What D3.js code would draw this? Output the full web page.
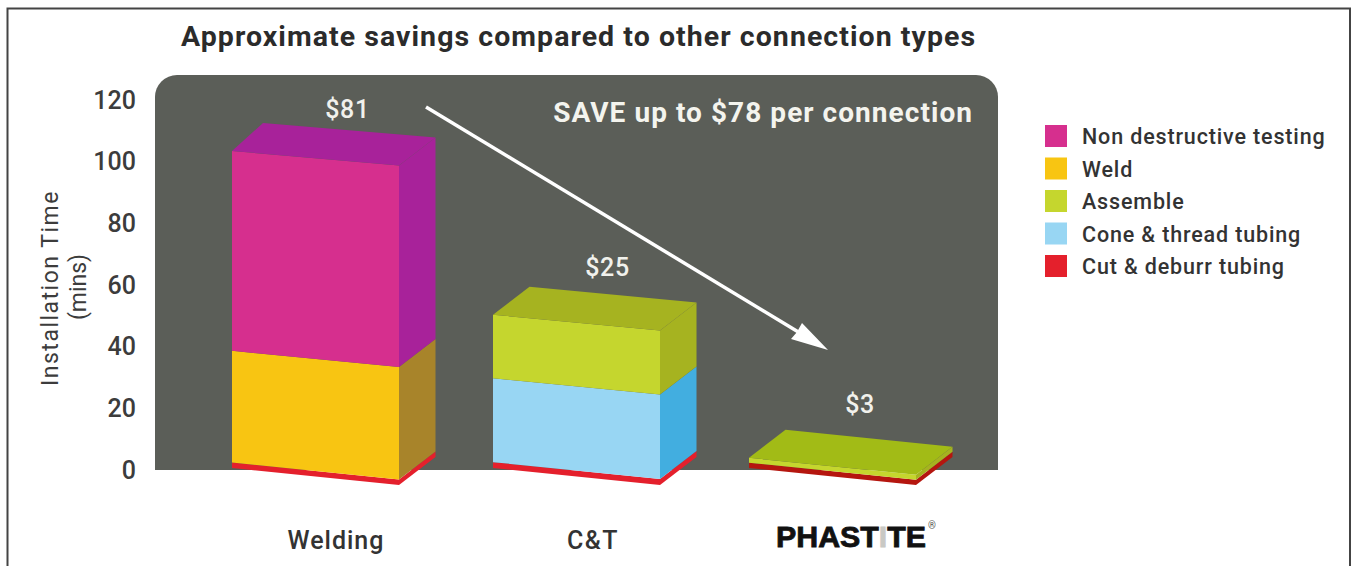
<!DOCTYPE html>
<meta charset="utf-8">
<style>

body {
  margin: 0;
  background-color: #fff;
  overflow: hidden;
}

svg {
  display: block;
}

text {
  font-family: Roboto, sans-serif;
}

</style>
<body>

<div id="chart1"></div>

<script src="https://d3js.org/d3.v7.min.js"></script>
<script>

// values (minutes per stage)
var categories = ['Welding', 'C&T', 'PHASTITE'];
var stages = ['Cut & deburr tubing', 'Cone & thread tubing', 'Assemble', 'Weld', 'Non destructive testing'];
var cutDeburr = [1.8, 1.9, 1.7];
var coneThread = [0, 27.2, 0];
var assemble = [0, 20.6, 1.6];
var weld = [36.2, 0, 0];
var nonDestructive = [64.8, 0, 0];
var yTicks = [0, 20, 40, 60, 80, 100, 120];
var costLabels = ['$81', '$25', '$3'];
var legendOrder = ['Non destructive testing', 'Weld', 'Assemble', 'Cone & thread tubing', 'Cut & deburr tubing'];

var stageValues = [cutDeburr, coneThread, assemble, weld, nonDestructive];
var width = 1351, height = 566;

// front, right side and top face of each stage
var colors = {
  'Non destructive testing': {front: '#d62f8e', side: '#a8229a', top: '#a8229a'},
  'Weld': {front: '#f8c512', side: '#a8842a', top: '#a8842a'},
  'Assemble': {front: '#c5d62e', side: '#a6b320', top: '#a6b320'},
  'Cone & thread tubing': {front: '#98d6f3', side: '#42aee0', top: '#42aee0'},
  'Cut & deburr tubing': {front: '#e4202c', side: '#e4202c', top: '#e4202c'}
};

var y = d3.scaleLinear().domain([0, 120]).range([470, 100]);
// the bars are not quite evenly spaced in the original
var x = d3.scaleOrdinal().domain(categories).range([232, 493, 749]);

var barWidth = 167;
var baseLift = 2;     // bars sit a touch above the zero line on the left edge
var slopeTop = 14.5, slopeBase = 17;   // how far the front face drops left to right
var depthX = 36.5, depthY = -28;

var svg = d3.select('#chart1').append('svg')
  .attr('width', width)
  .attr('height', height);

// frame, open at the bottom
svg.append('path')
  .attr('d', 'M7.5,566V8.5H1350V566')
  .attr('fill', 'none')
  .attr('stroke', '#444')
  .attr('stroke-width', 2);

svg.append('text')
  .attr('x', 181)
  .attr('y', 46)
  .style('font-size', '28.5px')
  .style('font-weight', 700)
  .style('letter-spacing', '1.05px')
  .style('fill', '#2b2b2b')
  .text('Approximate savings compared to other connection types');

// dark panel behind the bars
svg.append('path')
  .attr('d', 'M155,' + y(0) + 'V97a22,22 0 0 1 22,-22H976a22,22 0 0 1 22,22V' + y(0) + 'Z')
  .attr('fill', '#5b5e58');

// y axis
var yAxis = svg.append('g')
  .attr('transform', 'translate(136,0)')
  .call(d3.axisLeft(y).tickValues(yTicks).tickSize(0).tickPadding(0));
yAxis.select('.domain').remove();
yAxis.selectAll('text')
  .style('font-family', 'Roboto, sans-serif')
  .style('font-size', '25px')
  .style('font-weight', 500)
  .style('fill', '#3c3c3c');

svg.append('text')
  .attr('transform', 'translate(58,288) rotate(-90)')
  .attr('text-anchor', 'middle')
  .style('font-size', '23px')
  .style('letter-spacing', '1.5px')
  .style('fill', '#3c3c3c')
  .text('Installation Time');

svg.append('text')
  .attr('transform', 'translate(86,287) rotate(-90)')
  .attr('text-anchor', 'middle')
  .style('font-size', '23px')
  .style('fill', '#3c3c3c')
  .text('(mins)');

function drop(v) {
  return slopeBase + (slopeTop - slopeBase) * v / 103;
}

function pts(list) {
  return list.map(function(p) { return p.join(','); }).join(' ');
}

// one stage of one bar: lower value v0, upper value v1
function drawStage(cat, stage, v0, v1) {
  var xl = x(cat), xr = xl + barWidth;
  var y0 = y(v0) - baseLift, y1 = y(v1) - baseLift;
  var d0 = drop(v0), d1 = drop(v1);
  var c = colors[stage];
  var isThin = cat === 'PHASTITE';

  var g = svg.append('g').attr('class', 'stage');

  g.append('polygon')
    .attr('points', pts([[xr, y0 + d0], [xr + depthX, y0 + d0 + depthY], [xr + depthX, y1 + d1 + depthY], [xr, y1 + d1]]))
    .attr('fill', isThin && stage === 'Cut & deburr tubing' ? '#b5160f' : c.side);

  g.append('polygon')
    .attr('points', pts([[xl, y0], [xr, y0 + d0], [xr, y1 + d1], [xl, y1]]))
    .attr('fill', isThin && stage === 'Cut & deburr tubing' ? '#b5160f' : c.front);
}

function drawTop(cat, stage, v) {
  var xl = x(cat), xr = xl + barWidth;
  var yy = y(v) - baseLift, d = drop(v);
  var lean = cat === 'Welding' ? 31 : depthX;
  svg.append('polygon')
    .attr('points', pts([[xl, yy], [xr, yy + d], [xr + depthX, yy + d + depthY], [xl + lean, yy + depthY]]))
    .attr('fill', cat === 'PHASTITE' ? '#a2bb16' : colors[stage].top);
}

categories.forEach(function(cat, i) {
  var sum = 0, last = null;
  stages.forEach(function(stage, s) {
    var v = stageValues[s][i];
    if (v > 0) {
      drawStage(cat, stage, sum, sum + v);
      sum += v;
      last = stage;
    }
  });
  drawTop(cat, last, sum);
});

// cost labels above each bar
var labelX = [347.5, 607.5, 860];
var labelY = [118, 276, 413];
svg.selectAll('.cost')
  .data(costLabels)
  .enter().append('text')
  .attr('class', 'cost')
  .attr('x', function(d, i) { return labelX[i]; })
  .attr('y', function(d, i) { return labelY[i]; })
  .attr('text-anchor', 'middle')
  .style('font-size', '25px')
  .style('font-weight', 500)
  .style('letter-spacing', '0.6px')
  .style('fill', '#f1f1ec')
  .text(function(d) { return d; });

svg.append('text')
  .attr('x', 973)
  .attr('y', 122)
  .attr('text-anchor', 'end')
  .style('font-size', '28px')
  .style('font-weight', 700)
  .style('letter-spacing', '1.05px')
  .style('fill', '#f4f4ee')
  .text('SAVE up to $78 per connection');

// arrow
svg.append('line')
  .attr('x1', 426).attr('y1', 107)
  .attr('x2', 800).attr('y2', 333)
  .attr('stroke', '#fff')
  .attr('stroke-width', 3.5);
svg.append('polygon')
  .attr('points', '828,350 802,323 797,332 791,339')
  .attr('fill', '#fff');

// category labels under the bars
svg.append('text')
  .attr('x', 336).attr('y', 549)
  .attr('text-anchor', 'middle')
  .style('font-size', '25px')
  .style('font-weight', 500)
  .style('letter-spacing', '1px')
  .style('fill', '#333')
  .text('Welding');

svg.append('text')
  .attr('x', 593).attr('y', 549)
  .attr('text-anchor', 'middle')
  .style('font-size', '25px')
  .style('font-weight', 500)
  .style('letter-spacing', '1.5px')
  .style('fill', '#333')
  .text('C&T');

// logo set as text, with the fitting standing in for the I
var logo = svg.append('text')
  .attr('x', 776).attr('y', 547)
  .attr('textLength', 150)
  .attr('lengthAdjust', 'spacingAndGlyphs')
  .style('font-family', '"Liberation Sans", sans-serif')
  .style('font-size', '29px')
  .style('font-weight', 700)
  .style('stroke', '#111')
  .style('stroke-width', 0.8)
  .style('fill', '#111');
logo.append('tspan').text('PHAST');
logo.append('tspan').style('fill', '#c9c9c4').style('stroke', '#c9c9c4').text('I');
logo.append('tspan').text('TE');

svg.append('text')
  .attr('x', 928).attr('y', 529)
  .style('font-size', '10px')
  .style('fill', '#555')
  .text('®');

// legend
var legendY = d3.scalePoint().domain(legendOrder).range([136, 266]);

var legend = svg.selectAll('.legend')
  .data(legendOrder)
  .enter().append('g')
  .attr('class', 'legend')
  .attr('transform', function(d) { return 'translate(1045,' + legendY(d) + ')'; });

legend.append('rect')
  .attr('x', 0).attr('y', -11)
  .attr('width', 22).attr('height', 22)
  .attr('fill', function(d) { return colors[d].front; });

legend.append('text')
  .attr('x', 37).attr('y', 8)
  .style('font-size', '21.5px')
  .style('font-weight', 500)
  .style('letter-spacing', '0.85px')
  .style('fill', '#333')
  .text(function(d) { return d; });

</script>
</body>
